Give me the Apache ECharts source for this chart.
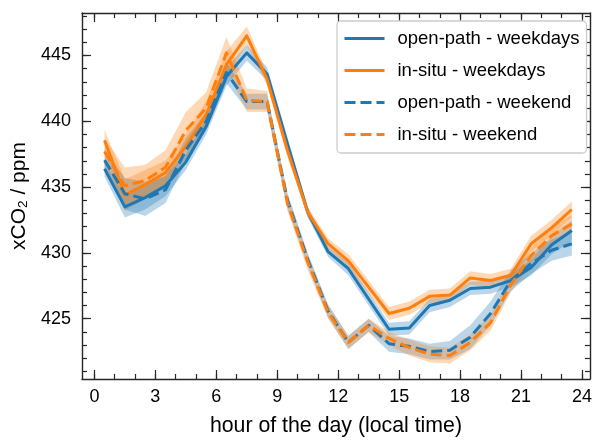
<!DOCTYPE html>
<html>
<head>
<meta charset="utf-8">
<script src="https://cdn.jsdelivr.net/npm/echarts@6/dist/echarts.min.js"></script>
<style>
html,body{margin:0;padding:0;background:#fff;}
#chart{width:595px;height:442px;}
</style>
</head>
<body>
<div id="chart"></div>
<script>
// ---- data ----
const hours = [0.5,1.5,2.5,3.5,4.5,5.5,6.5,7.5,8.5,9.5,10.5,11.5,12.5,13.5,14.5,15.5,16.5,17.5,18.5,19.5,20.5,21.5,22.5,23.5];

const openPathWeekdays = [436.4,433.5,434.2,435.1,436.9,439.6,443.4,445.2,443.6,438.3,433.1,430.1,428.8,426.5,424.2,424.3,426.0,426.4,427.3,427.4,427.9,428.9,430.6,431.7];
const inSituWeekdays   = [438.55,434.4,435.2,436.1,438.1,440.5,444.3,446.5,443.2,437.8,433.1,430.7,429.4,427.4,425.4,425.8,426.7,426.8,428.1,427.9,428.3,430.7,431.9,433.3];
const openPathWeekend  = [437.05,434.5,434.1,434.8,437.8,440.0,443.7,441.5,441.5,434.0,429.5,425.6,423.2,424.5,423.1,422.9,422.5,422.6,423.6,425.4,427.9,429.2,430.2,430.7];
const inSituWeekend    = [437.7,435.1,435.5,436.5,439.3,441.0,445.2,441.6,441.5,433.8,429.3,425.5,423.2,424.5,423.5,422.8,422.3,422.2,423.2,424.7,427.6,429.8,431.3,432.2];

// half-width of the shaded uncertainty bands
const openPathWeekdaysSpread = [0.6,0.8,0.9,0.8,0.6,0.6,0.7,0.6,0.5,0.5,0.4,0.4,0.5,0.5,0.5,0.5,0.5,0.5,0.5,0.5,0.5,0.6,0.7,0.8];
const inSituWeekdaysSpread   = [0.8,1.2,1.1,0.9,0.9,1.0,1.0,0.7,0.5,0.5,0.4,0.4,0.5,0.5,0.5,0.5,0.5,0.5,0.5,0.5,0.5,0.6,0.6,0.6];
const openPathWeekendSpread  = [0.8,1.2,1.3,1.0,0.9,0.7,0.8,0.6,0.6,0.6,0.5,0.5,0.5,0.5,0.6,0.6,0.6,0.7,0.9,0.9,0.8,0.8,0.8,0.9];
const inSituWeekendSpread    = [1.0,1.4,1.2,1.3,1.4,1.2,1.2,0.9,0.8,0.6,0.6,0.5,0.5,0.5,0.5,0.6,0.6,0.6,0.6,0.6,0.6,0.6,0.7,0.7];

const seriesNames = ['open-path - weekdays','in-situ - weekdays','open-path - weekend','in-situ - weekend'];

const xMajorTicks = [0,3,6,9,12,15,18,21,24];
const xMinorTicks = [0,1,2,3,4,5,6,7,8,9,10,11,12,13,14,15,16,17,18,19,20,21,22,23,24];
const yMajorTicks = [425,430,435,440,445];
const yMinorTicks = [421,422,423,424,425,426,427,428,429,430,431,432,433,434,435,436,437,438,439,440,441,442,443,444,445,446,447,448];

// ---- styling ----
const BLUE = '#1f77b4', ORANGE = '#ff7f0e';
const BLUE_FILL = 'rgba(31,119,180,0.3)', ORANGE_FILL = 'rgba(255,127,14,0.3)';
const FONT = '"Liberation Sans", Arial, Helvetica, sans-serif';
const XMIN = -0.61, XMAX = 24.39, YMIN = 420.42, YMAX = 448.23;
const AXC = '#262626';

const pts = (vals) => hours.map((h,i)=>[h, vals[i]]);

// shaded band drawn as one polygon through the axis scales
function band(vals, spread, fill){
  const data = hours.map((h,i)=>[h, vals[i]-spread[i], vals[i]+spread[i]]);
  return {
    type:'custom', silent:true, z:1, xAxisIndex:0, yAxisIndex:0,
    data: data, encode:{x:0, y:[1,2]},
    renderItem: function(params, api){
      if (params.dataIndex !== 0) return null;
      const upper = data.map(d => api.coord([d[0], d[2]]));
      const lower = data.map(d => api.coord([d[0], d[1]])).reverse();
      return {type:'polygon', shape:{points: upper.concat(lower)}, style:{fill: fill, stroke:null}};
    }
  };
}
function line(name, vals, color, dashed){
  return {type:'line', name:name, data: pts(vals), symbol:'none', z:3,
    xAxisIndex:0, yAxisIndex:0,
    lineStyle:{color:color, width:3, type: dashed ? [11,5] : 'solid', cap:'butt', join:'round'},
    itemStyle:{color:color}};
}

function xAx(pos, ticks, len, labels, withLine, extra){
  return Object.assign({
    type:'value', position:pos, min:XMIN, max:XMAX, gridIndex:0,
    axisLine:{show:withLine, onZero:false, lineStyle:{color:AXC, width:1.4}},
    axisTick:{show:true, inside:true, length:len, customValues:ticks, lineStyle:{color:AXC, width:1.2}},
    axisLabel:{show:labels, customValues:ticks, fontFamily:FONT, fontSize:18, color:'#000', margin:9},
    splitLine:{show:false}
  }, extra||{});
}
function yAx(pos, ticks, len, labels, withLine, extra){
  return Object.assign({
    type:'value', position:pos, min:YMIN, max:YMAX, gridIndex:0,
    axisLine:{show:withLine, onZero:false, lineStyle:{color:AXC, width:1.4}},
    axisTick:{show:true, inside:true, length:len, customValues:ticks, lineStyle:{color:AXC, width:1.2}},
    axisLabel:{show:labels, customValues:ticks, fontFamily:FONT, fontSize:18, color:'#000', margin:11},
    splitLine:{show:false}
  }, extra||{});
}

const chart = echarts.init(document.getElementById('chart'), null, {renderer:'canvas'});
chart.setOption({
  animation:false,
  backgroundColor:'#fff',
  grid:{left:82, right:3, top:13, bottom:59, containLabel:false},
  legend:{
    data: seriesNames, orient:'vertical', left:337, top:21,
    itemWidth:40, itemHeight:14, itemGap:13,
    padding:[8,7,9,6],
    itemStyle:{opacity:0, borderWidth:0},
    lineStyle:{width:3},
    backgroundColor:'#fff', borderColor:'#cccccc', borderWidth:1.3, borderRadius:4,
    textStyle:{fontFamily:FONT, fontSize:18.5, color:'#000', padding:[0,0,0,8]}
  },
  xAxis:[
    xAx('bottom', xMajorTicks, 9, true, true, {
      name:'hour of the day (local time)', nameLocation:'middle', nameGap:37,
      nameTextStyle:{fontFamily:FONT, fontSize:21.3, color:'#000'}}),
    xAx('bottom', xMinorTicks, 5, false, false),
    xAx('top', xMajorTicks, 9, false, true),
    xAx('top', xMinorTicks, 5, false, false)
  ],
  yAxis:[
    yAx('left', yMajorTicks, 9, true, true, {
      name:'xCO{sub|2} / ppm', nameLocation:'middle', nameGap:50, nameRotate:90,
      nameTextStyle:{fontFamily:FONT, fontSize:21, color:'#000',
        rich:{sub:{fontFamily:FONT, fontSize:13.5, color:'#000', verticalAlign:'bottom', padding:[7,0,0,0]}}}}),
    yAx('left', yMinorTicks, 5, false, false),
    yAx('right', yMajorTicks, 9, false, true),
    yAx('right', yMinorTicks, 5, false, false)
  ],
  series:[
    band(openPathWeekdays, openPathWeekdaysSpread, BLUE_FILL),
    band(inSituWeekdays, inSituWeekdaysSpread, ORANGE_FILL),
    band(openPathWeekend, openPathWeekendSpread, BLUE_FILL),
    band(inSituWeekend, inSituWeekendSpread, ORANGE_FILL),
    line(seriesNames[0], openPathWeekdays, BLUE, false),
    line(seriesNames[1], inSituWeekdays, ORANGE, false),
    line(seriesNames[2], openPathWeekend, BLUE, true),
    line(seriesNames[3], inSituWeekend, ORANGE, true)
  ]
});
</script>
</body>
</html>
